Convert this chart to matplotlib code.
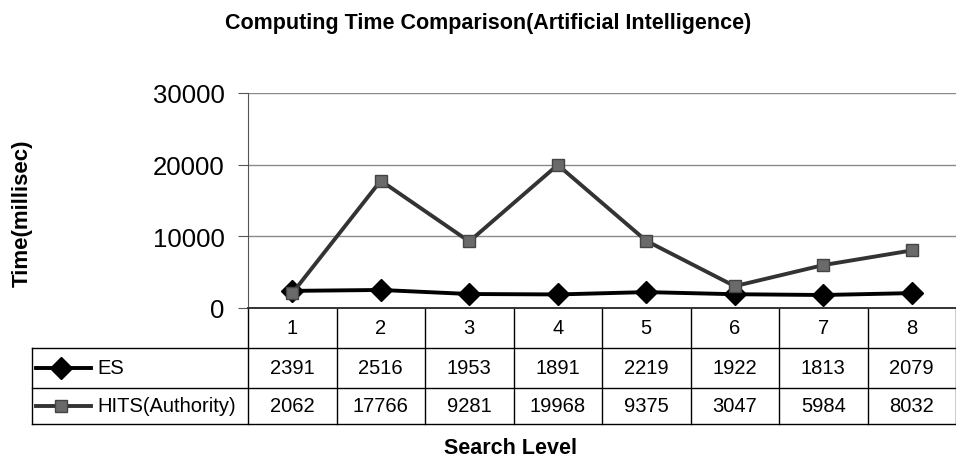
import matplotlib
matplotlib.use('Agg')
import matplotlib.pyplot as plt
import matplotlib.transforms as mtransforms

plt.rcParams['font.family'] = ['Liberation Sans', 'DejaVu Sans']

levels = [1, 2, 3, 4, 5, 6, 7, 8]
es_time = [2391, 2516, 1953, 1891, 2219, 1922, 1813, 2079]
hits_time = [2062, 17766, 9281, 19968, 9375, 3047, 5984, 8032]
series_names = ['ES', 'HITS(Authority)']
y_ticks = [0, 10000, 20000, 30000]

fig = plt.figure(figsize=(9.56, 4.6), dpi=100)
ax = fig.add_axes([248 / 956, 151 / 460, 708 / 956, 215 / 460])

ax.plot(levels, es_time, color='black', lw=2.8, marker='D', ms=11,
        mfc='black', mec='black', zorder=3)
ax.plot(levels, hits_time, color='#333333', lw=2.8, marker='s', ms=8.5,
        mfc='#6a6a6a', mec='#444444', zorder=4)

ax.set_xlim(0.5, 8.5)
ax.set_ylim(0, 30000)
ax.set_yticks(y_ticks)
ax.set_yticklabels([str(v) for v in y_ticks])
ax.set_xticks([])
ax.tick_params(axis='y', labelsize=18.5, length=7, pad=10, color='#555555')
ax.yaxis.grid(True, color='#8a8a8a', lw=1.0)
ax.set_axisbelow(True)
for s in ['top', 'right']:
    ax.spines[s].set_visible(False)
ax.spines['left'].set_color('#555555')
ax.spines['bottom'].set_color('#333333')
ax.spines['bottom'].set_linewidth(1.4)

#########################################
# data table under the plot (Excel way) #
#########################################
blend = mtransforms.blended_transform_factory(ax.transData, ax.transAxes)
row_bottoms = [-0.186, -0.372, -0.5395]
label_left = (32 - 248) / 708
lkw = dict(color='black', lw=1.0, clip_on=False)

for k in range(len(levels) + 1):
    ax.plot([k + 0.5, k + 0.5], [0, row_bottoms[-1]], transform=blend, **lkw)
for yb in row_bottoms:
    ax.plot([label_left, 1.0], [yb, yb], transform=ax.transAxes, **lkw)
ax.plot([label_left, label_left], [row_bottoms[0], row_bottoms[-1]],
        transform=ax.transAxes, **lkw)

row_mid = [(0 + row_bottoms[0]) / 2, (row_bottoms[0] + row_bottoms[1]) / 2,
           (row_bottoms[1] + row_bottoms[2]) / 2]
for i, lv in enumerate(levels):
    ax.text(lv, row_mid[0], str(lv), transform=blend, ha='center', va='center', fontsize=14.5)
    ax.text(lv, row_mid[1], str(es_time[i]), transform=blend, ha='center', va='center', fontsize=14.5)
    ax.text(lv, row_mid[2], str(hits_time[i]), transform=blend, ha='center', va='center', fontsize=14.5)

# legend keys inside the row label cells
kx0, kx1, kxm = (36 - 248) / 708, (91 - 248) / 708, (61 - 248) / 708
tx = (97 - 248) / 708
ax.plot([kx0, kx1], [row_mid[1]] * 2, transform=ax.transAxes, color='black', lw=2.8, clip_on=False)
ax.plot([kxm], [row_mid[1]], transform=ax.transAxes, marker='D', ms=11, color='black', clip_on=False)
ax.plot([kx0, kx1], [row_mid[2]] * 2, transform=ax.transAxes, color='#333333', lw=2.8, clip_on=False)
ax.plot([kxm], [row_mid[2]], transform=ax.transAxes, marker='s', ms=8.5, mfc='#6a6a6a',
        mec='#444444', clip_on=False)
ax.text(tx, row_mid[1], series_names[0], transform=ax.transAxes, ha='left', va='center', fontsize=14.5)
ax.text(tx, row_mid[2], series_names[1], transform=ax.transAxes, ha='left', va='center', fontsize=14.5)

fig.text(488 / 956, 1 - 24 / 460, 'Computing Time Comparison(Artificial Intelligence)',
         ha='center', va='center', fontsize=15.5, fontweight='bold')
fig.text(22 / 956, 1 - 213 / 460, 'Time(millisec)', ha='center', va='center',
         rotation=90, fontsize=16, fontweight='bold')
fig.text(510 / 956, 1 - 449 / 460, 'Search Level', ha='center', va='center',
         fontsize=15.5, fontweight='bold')

fig.savefig('out.png', dpi=100)
